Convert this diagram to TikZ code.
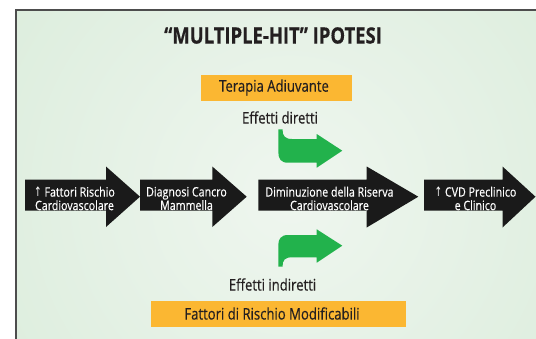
\documentclass[tikz,border=0pt]{standalone}
\usepackage{fontspec}
\setmainfont{Open Sans}[FakeStretch=0.82,FakeBold=0.4]
\newfontfamily\symfont{DejaVu Sans}[FakeStretch=0.7]
\definecolor{bgedge}{HTML}{D3E9D4}
\definecolor{bgcenter}{HTML}{EFF6EF}
\definecolor{boxorange}{HTML}{FBB732}
\definecolor{arrowgreen}{HTML}{22B24C}
\definecolor{arrowblack}{HTML}{1A1A1A}
\definecolor{textdark}{HTML}{231F20}
\definecolor{framegray}{HTML}{4D4D4D}
\newcommand{\upar}{{\symfont ↑}}
\begin{document}
\begin{tikzpicture}[x=1pt,y=-1pt,
  blackarrow/.style={fill=arrowblack},
  greenarrow/.style={fill=arrowgreen},
  orangebox/.style={fill=boxorange},
  arrowtext/.style={text=white,font=\fontsize{13}{13.5}\selectfont,align=center,inner sep=0pt},
  labeltext/.style={text=textdark,font=\fontsize{16}{17}\selectfont,inner sep=0pt},
  boxtext/.style={text=textdark,font=\fontsize{16}{17}\selectfont,inner sep=0pt}]
\useasboundingbox (0,0) rectangle (536,338);
% background panel
\begin{scope}
  \clip (16,10) rectangle (540,345);
  \fill[bgedge] (16,10) rectangle (540,345);
  \shade[inner color=bgcenter,outer color=bgedge] (290,195) circle (520);
\end{scope}
\draw[framegray,line width=1.5pt] (16,345) -- (16,10) -- (540,10);
% title
\node[text=textdark,font=\fontsize{22.5}{24}\bfseries\selectfont,inner sep=0pt] (title) at (273,35.5) {“MULTIPLE-HIT” IPOTESI};
% orange boxes
\fill[orangebox] (201,75) rectangle (352,100.5);
\node[boxtext] (terapia) at (274,87.5) {Terapia Adiuvante};
\fill[orangebox] (151,301) rectangle (405.5,326.5);
\node[boxtext] (fattori) at (272,313.5) {Fattori di Rischio Modificabili};
% labels
\node[labeltext] (diretti) at (280,117.5) {Effetti diretti};
\node[labeltext] (indiretti) at (272.5,284.5) {Effetti indiretti};
% black arrows
\fill[blackarrow] (25,179.5) -- (106,179.5) -- (106,166.5) -- (140,196.7) -- (106,227) -- (106,210.5) -- (25,210.5) -- cycle;
\fill[blackarrow] (140,179.5) -- (212.3,179.5) -- (212.3,166.5) -- (246.7,196.7) -- (212.3,227) -- (212.3,210.5) -- (140,210.5) -- cycle;
\fill[blackarrow] (258.3,179.5) -- (366.7,179.5) -- (366.7,166.5) -- (418.3,196.7) -- (366.7,227.5) -- (366.7,210.5) -- (258.3,210.5) -- cycle;
\fill[blackarrow] (424,179.5) -- (502.5,179.5) -- (502.5,166.5) -- (535.5,196.7) -- (502.5,227.5) -- (502.5,210.5) -- (424,210.5) -- cycle;
\node[arrowtext] (t1) at (74.5,198.5) {\upar\ Fattori Rischio\\Cardiovascolare};
\node[arrowtext] (t2) at (186.5,198.5) {Diagnosi Cancro\\Mammella};
\node[arrowtext] (t3) at (329.5,198.5) {Diminuzione della Riserva\\Cardiovascolare};
\node[arrowtext] (t4) at (475.5,198.5) {\upar\ CVD Preclinico\\e Clinico};
% green arrows
\fill[greenarrow] (278.3,129.3) -- (282.5,129.3) .. controls (282.5,136) and (285,139) .. (292,139) -- (316.7,139) -- (316.7,134) -- (342.3,150.7) -- (316.7,167.7) -- (316.7,162.7) -- (288,162.7) .. controls (281,162.7) and (278.3,159) .. (278.3,152) -- cycle;
\fill[greenarrow] (278.3,266.7) -- (282.5,266.7) .. controls (282.5,260) and (285,257.3) .. (292,257.3) -- (316.7,257.3) -- (316.7,262.7) -- (342.3,245.7) -- (316.7,229.3) -- (316.7,235) -- (288,235) .. controls (281,235) and (278.3,239) .. (278.3,245) -- cycle;
\end{tikzpicture}
\end{document}
